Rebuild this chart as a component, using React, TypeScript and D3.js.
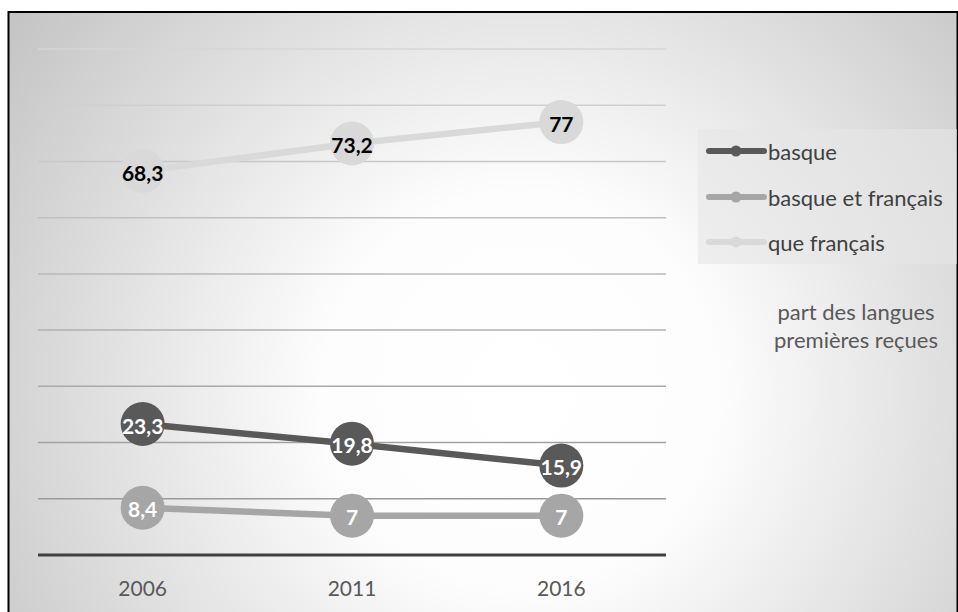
import React from "react";
import * as d3 from "d3";

const years = ["2006", "2011", "2016"];
const seriesNames = ["basque", "basque et français", "que français"];
const basque = [23.3, 19.8, 15.9];
const basqueFrancais = [8.4, 7, 7];
const queFrancais = [68.3, 73.2, 77];
const seriesColors = ["#595959", "#a6a6a6", "#d9d9d9"];
const labelColors = ["#ffffff", "#ffffff", "#000000"];
const gridValues = [10, 20, 30, 40, 50, 60, 70, 80, 90];
const noteLines = ["part des langues", "premières reçues"];

const W = 958;
const H = 612;
const FONT = "Lato, 'Open Sans', sans-serif";

export default function App() {
  const x = d3.scaleBand<string>().domain(years).range([38, 666]).padding(0);
  const y = d3.scaleLinear().domain([0, 90]).range([555, 49]);
  const cx = (yr: string) => (x(yr) as number) + x.bandwidth() / 2;
  const series = [basque, basqueFrancais, queFrancais];
  const line = d3
    .line<number>()
    .x((_, i) => cx(years[i]))
    .y((v) => y(v));
  const gridColor = d3.scaleLinear<string>().domain([10, 90]).range(["#9a9a9a", "#d6d6d6"]);
  const fmt = (v: number) => String(v).replace(".", ",");
  const legendY = [151, 197, 242];
  const drawOrder = [2, 1, 0];

  return (
    <svg width={W} height={H} style={{ position: "absolute", left: 0, top: 0 }} fontFamily={FONT}>
      <defs>
        <radialGradient id="bg" gradientUnits="userSpaceOnUse" cx={520} cy={390} r={660}>
          <stop offset="0" stopColor="#ffffff" />
          <stop offset="0.3" stopColor="#fdfdfd" />
          <stop offset="1" stopColor="#c0c0c0" />
        </radialGradient>
      </defs>
      <rect x={0} y={0} width={W} height={H} fill="#ffffff" />
      <rect x={8.5} y={12} width={949} height={700} fill="url(#bg)" stroke="#000" strokeWidth={2} />

      {gridValues.map((g) => (
        <line key={g} x1={38} x2={666} y1={y(g)} y2={y(g)} stroke={gridColor(g)} strokeWidth={1.5} />
      ))}
      <line x1={38} x2={666} y1={y(0)} y2={y(0)} stroke="#404040" strokeWidth={3} />

      {years.map((yr) => (
        <text key={yr} x={cx(yr)} y={587} textAnchor="middle" dominantBaseline="central" fontSize={21} fill="#595959">
          {yr}
        </text>
      ))}

      {drawOrder.map((si) => (
        <g key={si}>
          <path d={line(series[si]) as string} fill="none" stroke={seriesColors[si]} strokeWidth={6.5} strokeLinecap="round" />
          {series[si].map((v, i) => (
            <circle key={i} cx={cx(years[i])} cy={y(v)} r={22} fill={seriesColors[si]} />
          ))}
        </g>
      ))}
      {drawOrder.map((si) => (
        <g key={"l" + si}>
          {series[si].map((v, i) => (
            <text
              key={i}
              x={cx(years[i])}
              y={y(v) + 1}
              textAnchor="middle"
              dominantBaseline="central"
              fontSize={21}
              fontWeight="bold"
              fill={labelColors[si]}
            >
              {fmt(v)}
            </text>
          ))}
        </g>
      ))}

      <rect x={698} y={129} width={259} height={135} fill="#e6e6e6" opacity={0.6} />
      {seriesNames.map((n, i) => (
        <g key={n}>
          <line x1={709} x2={764} y1={legendY[i]} y2={legendY[i]} stroke={seriesColors[i]} strokeWidth={6} strokeLinecap="round" />
          <circle cx={736} cy={legendY[i]} r={5.5} fill={seriesColors[i]} />
          <text x={768} y={legendY[i]} dominantBaseline="central" fontSize={22} fill="#404040">
            {n}
          </text>
        </g>
      ))}

      {noteLines.map((t, i) => (
        <text key={t} x={856} y={311 + i * 28} textAnchor="middle" dominantBaseline="central" fontSize={22} fill="#595959">
          {t}
        </text>
      ))}
    </svg>
  );
}
